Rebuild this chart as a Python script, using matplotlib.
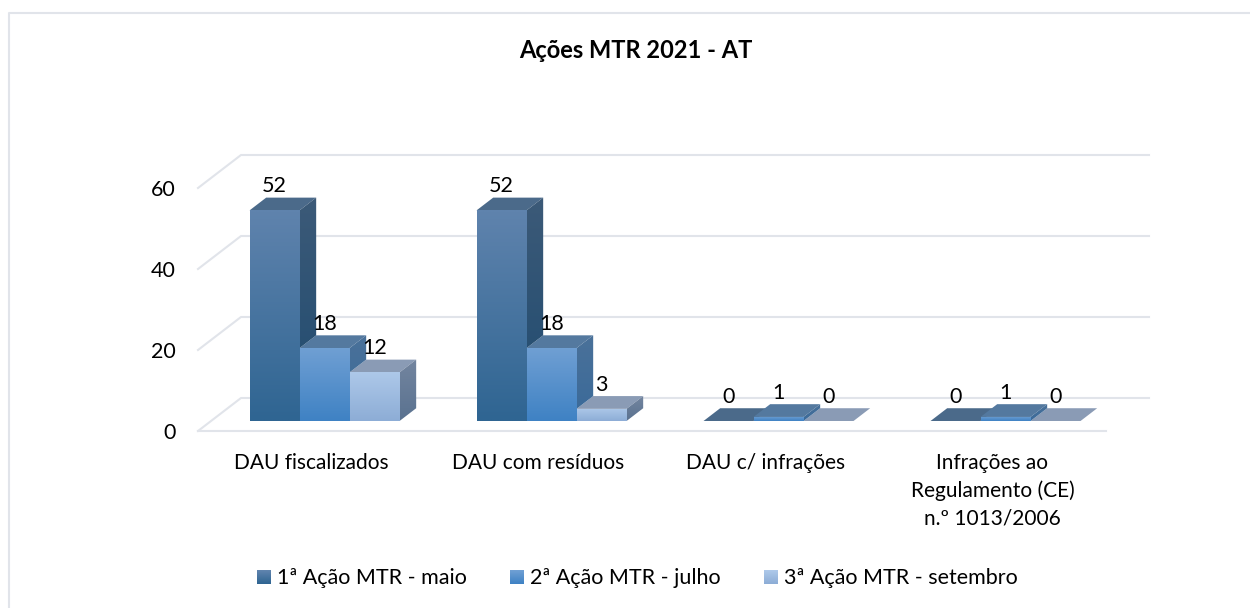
import numpy as np
import matplotlib.pyplot as plt
from matplotlib.colors import to_rgb
from matplotlib.legend_handler import HandlerBase
from matplotlib.lines import Line2D
from matplotlib.patches import Patch, Polygon, Rectangle

plt.rcParams['font.family'] = ['Lato', 'DejaVu Sans']

categorias = ["DAU fiscalizados", "DAU com resíduos", "DAU c/ infrações",
              "Infrações ao\nRegulamento (CE)\nn.º 1013/2006"]
serie_maio = [52, 52, 0, 0]
serie_julho = [18, 18, 1, 1]
serie_setembro = [12, 3, 0, 0]
nomi_serie = ["1ª Ação MTR - maio", "2ª Ação MTR - julho", "3ª Ação MTR - setembro"]
ticks_y = [0, 20, 40, 60]

W, H = 1250, 608
# colori: fronte alto/basso, lato alto/basso, sopra
col_fronte = [("#5f83ad", "#2f6592"), ("#6f9fd3", "#3f82c4"), ("#adc8e9", "#8dadd6")]
col_lato = [("#3c5a78", "#1f4b70"), ("#4a7199", "#3a6a9a"), ("#73859f", "#5a7290")]
col_sopra = ["#4b6a8a", "#54799f", "#8a9bb5"]
col_griglia = "#e1e4ea"

# proiezione obliqua: profondita 0..1 del pavimento
DX = 43 / 227
DY = 33 / 4.05
d0, d1 = 0.303, 0.69
larg = 50 / 227


def proj(x, v, d):
    return x + d * DX, v + d * DY


def mescola(alto, basso, t):
    return tuple((1 - t) * np.array(to_rgb(alto)) + t * np.array(to_rgb(basso)))


def sfumato(ax, verts, alto, basso, v_top=None, v_bot=None):
    # riempie il poligono con un gradiente verticale
    verts = np.array(verts)
    top = verts[:, 1].max() if v_top is None else v_top
    bot = verts[:, 1].min() if v_bot is None else v_bot
    t = np.linspace(0, 1, 64)[:, None, None]
    img = (1 - t) * np.array(to_rgb(alto)) + t * np.array(to_rgb(basso))
    im = ax.imshow(img, extent=(verts[:, 0].min(), verts[:, 0].max(), bot, top),
                   aspect='auto', interpolation='bilinear', zorder=3)
    im.set_clip_path(Polygon(verts, transform=ax.transData))


class QuadratoSfumato(HandlerBase):
    # quadratino della legenda fatto di strisce sottili
    def create_artists(self, legend, handle, xd, yd, width, height, fontsize, trans):
        alto, basso = handle.colori
        n = 14
        lato = width
        y0 = -yd + (height - lato) / 2
        strisce = []
        for k in range(n):
            col = mescola(alto, basso, k / (n - 1))
            strisce.append(Rectangle((-xd, y0 + lato * (n - 1 - k) / n), lato, lato / n * 1.1,
                                     fc=col, ec='none', transform=trans))
        return strisce


fig = plt.figure(figsize=(W / 100, H / 100), dpi=100)
ax = fig.add_axes([198 / W, (H - 431) / H, 908 / W, 243 / H])

# griglia con la parete di fondo
for v in ticks_y:
    xb, yb = proj(0, v, 1)
    xe, ye = proj(4, v, 1)
    ax.plot([0, xb, xe], [v, yb, ye], color=col_griglia, lw=1.5, clip_on=False, zorder=1)
ax.plot([0, 4], [0, 0], color=col_griglia, lw=1.5, clip_on=False, zorder=1)

serie = [serie_maio, serie_julho, serie_setembro]
for c in range(len(categorias)):
    altezze = [s[c] for s in serie]
    x0 = c + 0.5 - 1.5 * larg

    # prima le facce superiori, dalla piu bassa alla piu alta
    for i in np.argsort(altezze, kind='stable'):
        h = altezze[i]
        xl = x0 + i * larg
        sopra = [proj(xl, h, d0), proj(xl + larg, h, d0), proj(xl + larg, h, d1), proj(xl, h, d1)]
        ax.add_patch(Polygon(sopra, fc=col_sopra[i], ec='none', zorder=2))

    # lati visibili, solo sopra la barra vicina
    for i, h in enumerate(altezze):
        vicino = altezze[i + 1] if i < 2 else 0
        if h > vicino:
            xr = x0 + (i + 1) * larg
            lato = [proj(xr, h, d0), proj(xr, h, d1), proj(xr, vicino, d1), proj(xr, vicino, d0)]
            v_top = proj(xr, h, d1)[1]
            v_bot = proj(xr, 0, d0)[1]
            sfumato(ax, lato, col_lato[i][0], col_lato[i][1], v_top, v_bot)

    # facce frontali ed etichette
    for i, h in enumerate(altezze):
        xl = x0 + i * larg
        px, py = proj(xl, 0, d0)
        if h > 0:
            fronte = [(px, py), (px + larg, py), (px + larg, py + h), (px, py + h)]
            sfumato(ax, fronte, col_fronte[i][0], col_fronte[i][1])
        ax.annotate(str(h), (px + larg / 2, py + h), xytext=(0, 17.5), textcoords='offset points',
                    ha='center', va='center', fontsize=15.5, color='black', zorder=5)

ax.set_xlim(0, 4)
ax.set_ylim(0, 60)
ax.set_aspect('auto')
ax.set_xticks(np.arange(4) + 0.5)
ax.set_xticklabels(categorias, fontsize=15, linespacing=1.45)
ax.set_yticks(ticks_y)
ax.tick_params(axis='y', length=0, labelsize=15.5, pad=16)
ax.tick_params(axis='x', length=0, labelsize=15, pad=16)
for sp in ax.spines.values():
    sp.set_visible(False)
ax.patch.set_visible(False)

maniglie = []
for k in range(3):
    p = Patch()
    p.colori = col_fronte[k]
    maniglie.append(p)
fig.legend(maniglie, nomi_serie, ncol=3, loc='center', bbox_to_anchor=(637.5 / W, 1 - 578.5 / H),
           frameon=False, fontsize=15.5, handlelength=0.65, handleheight=0.65,
           handletextpad=0.28, columnspacing=2.0, borderpad=0, borderaxespad=0,
           handler_map={Patch: QuadratoSfumato()})

fig.text(635.5 / W, 1 - 50 / H, "Ações MTR 2021 - AT", ha='center', va='center',
         fontsize=17, fontweight='bold')

# cornice: aperta a destra e in basso
fig.add_artist(Line2D([8.5 / W, 8.5 / W, 1], [0, 1 - 13 / H, 1 - 13 / H],
                      color=col_griglia, lw=1.5))

plt.savefig("out.png", dpi=100)
